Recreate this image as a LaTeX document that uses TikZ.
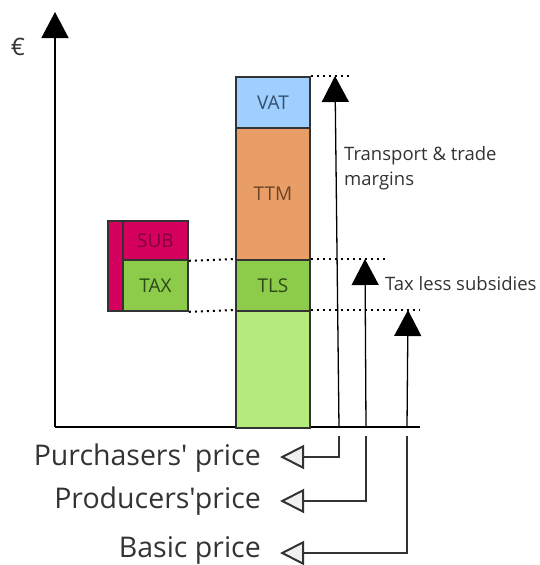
\documentclass[tikz,border=0pt]{standalone}
\usepackage{fontspec}
\setmainfont{Open Sans}[Ligatures=TeXOff]
\usetikzlibrary{arrows.meta}
\definecolor{vatc}{HTML}{9FCFFF}
\definecolor{vatt}{HTML}{34506E}
\definecolor{ttmc}{HTML}{E89E66}
\definecolor{ttmt}{HTML}{6E4428}
\definecolor{tlsc}{HTML}{8DCB4A}
\definecolor{tlst}{HTML}{2C4A18}
\definecolor{basec}{HTML}{B5EA7C}
\definecolor{subc}{HTML}{D6005E}
\definecolor{subt}{HTML}{80003C}
\definecolor{edgec}{HTML}{333333}
\definecolor{txtc}{HTML}{333333}
\tikzset{
  box/.style={draw=edgec, line width=1.8pt, inner sep=0pt, anchor=north west, font=\fontsize{19}{22}\selectfont},
  dotline/.style={line width=2pt, dash pattern=on 2pt off 4pt, line cap=butt},
  uparrow/.style={line width=1.3pt, draw=black, -{Triangle[width=27pt,length=26pt]}},
  leftarrow/.style={line width=1.4pt, draw=txtc, -{Triangle[open, fill=gray!12, width=24pt, length=24pt, line width=2pt]}},
  axis/.style={line width=1.5pt, draw=black},
  pricelabel/.style={anchor=east, text=txtc, inner sep=0pt, font=\fontsize{28.5}{32}\selectfont},
  sidelabel/.style={anchor=west, text=txtc, inner sep=0pt, align=left, font=\fontsize{18.5}{25}\selectfont}
}
\begin{document}
\begin{tikzpicture}[x=1pt, y=-1pt]
\useasboundingbox (0,0) rectangle (540,565);
% axes
\coordinate (origin) at (55,427);
\coordinate (ytip) at (55,12);
\coordinate (xend) at (420,427);
\draw[axis, -{Triangle[width=27pt,length=26pt]}] (origin) -- (ytip);
\draw[axis] (origin) -- (xend);
\node[text=txtc, font=\fontsize{24}{26}\selectfont] (euro) at (18,47) {€};
% main bar
\node[box, fill=basec, minimum width=74pt, minimum height=117pt] (base) at (235,310) {};
\node[box, fill=tlsc, text=tlst, minimum width=74pt, minimum height=51pt] (tls) at (235,259) {TLS};
\node[box, fill=ttmc, text=ttmt, minimum width=74pt, minimum height=132pt] (ttm) at (235,127) {TTM};
\node[box, fill=vatc, text=vatt, minimum width=74pt, minimum height=51pt] (vat) at (235,76) {VAT};
% left box
\node[box, fill=subc, minimum width=15pt, minimum height=90pt] (bar) at (107,220) {};
\node[box, fill=tlsc, text=tlst, minimum width=65pt, minimum height=51pt] (tax) at (122,259) {TAX};
\node[box, fill=subc, text=subt, minimum width=65pt, minimum height=39pt] (sub) at (122,220) {SUB};
% dotted lines
\coordinate (d1) at (352,76);
\coordinate (d2) at (388,259);
\coordinate (d3) at (420,310);
\draw[dotline] (vat.north east) -- (d1);
\draw[dotline] (sub.south east) -- (tls.north west);
\draw[dotline] (tls.north east) -- (d2);
\draw[dotline] (tax.south east) -- (base.north west);
\draw[dotline] (base.north east) -- (d3);
% up arrows
\coordinate (pbot) at (339,427);
\coordinate (ptop) at (335,76);
\coordinate (rbot) at (366,427);
\coordinate (rtop) at (365,259);
\coordinate (bbot) at (407,427);
\coordinate (btop) at (408,310);
\draw[uparrow] (pbot) -- (ptop);
\draw[uparrow] (rbot) -- (rtop);
\draw[uparrow] (bbot) -- (btop);
\node[sidelabel] (ttmlabel) at (344,168) {Transport \& trade\\margins};
\node[sidelabel] (tlslabel) at (385,284) {Tax less subsidies};
% price labels
\node[pricelabel] (pp) at (261,458) {Purchasers' price};
\node[pricelabel] (rp) at (261,501) {Producers'price};
\node[pricelabel] (bp) at (261,550) {Basic price};
\coordinate (ps) at (339,436);
\coordinate (rs) at (366,436);
\coordinate (bs) at (407,436);
\coordinate (pa) at (280,457);
\coordinate (ra) at (280,501);
\coordinate (ba) at (280,553);
\draw[leftarrow] (ps) |- (pa);
\draw[leftarrow] (rs) |- (ra);
\draw[leftarrow] (bs) |- (ba);
\end{tikzpicture}
\end{document}
